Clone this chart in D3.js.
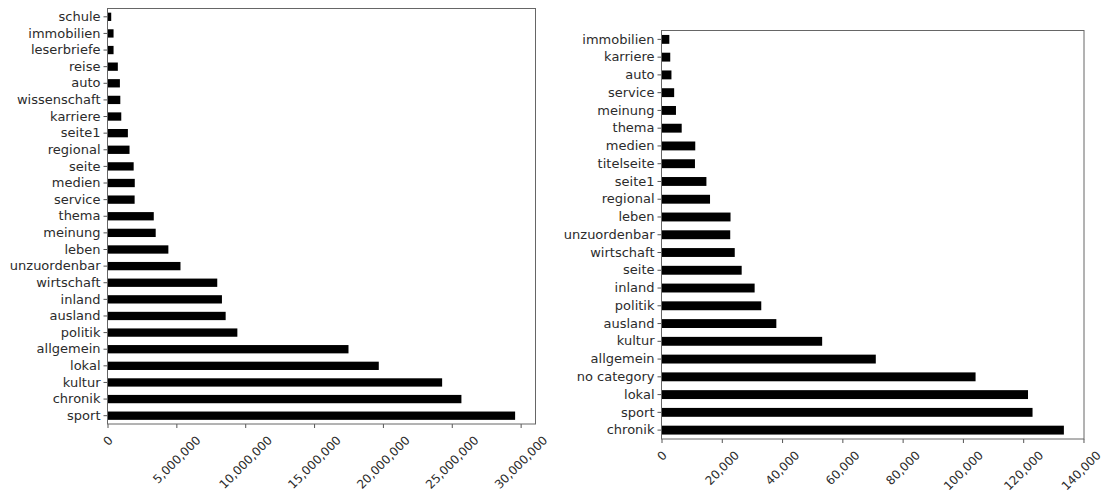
<!DOCTYPE html>
<html>
<head>
<meta charset="utf-8">
<script src="https://cdnjs.cloudflare.com/ajax/libs/d3/7.8.5/d3.min.js"></script>
<style>
  body { margin: 0; background: #fff; }
  svg text { font-family: "DejaVu Sans", sans-serif; font-size: 13px; fill: #2b2b2b; }
  svg .xtick text { font-size: 12px; }
</style>
</head>
<body>
<svg id="chart" width="1103" height="493"></svg>
<script>
// ---------------- Data (top to bottom as drawn) ----------------
var leftCategories = ["schule", "immobilien", "leserbriefe", "reise", "auto", "wissenschaft", "karriere",
    "seite1", "regional", "seite", "medien", "service", "thema", "meinung", "leben", "unzuordenbar",
    "wirtschaft", "inland", "ausland", "politik", "allgemein", "lokal", "kultur", "chronik", "sport"];
var leftValues = [270000, 440000, 440000, 750000, 900000, 930000, 1000000,
    1480000, 1600000, 1900000, 1980000, 1970000, 3360000, 3500000, 4420000, 5300000,
    7970000, 8310000, 8580000, 9430000, 17500000, 19700000, 24300000, 25700000, 29600000];
var leftTicks = [0, 5000000, 10000000, 15000000, 20000000, 25000000, 30000000];

var rightCategories = ["immobilien", "karriere", "auto", "service", "meinung", "thema", "medien",
    "titelseite", "seite1", "regional", "leben", "unzuordenbar", "wirtschaft", "seite", "inland",
    "politik", "ausland", "kultur", "allgemein", "no category", "lokal", "sport", "chronik"];
var rightValues = [2600, 2900, 3300, 4200, 4800, 6700, 11200,
    11100, 14900, 16100, 22900, 22800, 24300, 26600, 30900,
    33100, 38100, 53300, 71100, 104200, 121600, 123100, 133500];
var rightTicks = [0, 20000, 40000, 60000, 80000, 100000, 120000, 140000];

var svg = d3.select("#chart");
var svgWidth = +svg.attr("width");
var fmt = d3.format(",");

// draws one horizontal bar panel inside the box {l, t, r, b}
function drawPanel(box, cats, vals, ticks) {
    var g = svg.append("g");
    var max = d3.max(vals) * 1.05;

    var x = d3.scaleLinear().domain([0, max]).range([box.l, box.r]);
    var y = d3.scaleBand().domain(cats).range([box.t, box.b])
        .paddingInner(0.5).paddingOuter(0.25);

    // bars
    g.selectAll("rect.bar")
        .data(cats)
        .enter()
        .append("rect")
        .attr("class", "bar")
        .attr("x", x(0))
        .attr("y", function(d) { return y(d); })
        .attr("width", function(d, i) { return x(vals[i]) - x(0); })
        .attr("height", y.bandwidth())
        .attr("fill", "#000");

    // y axis
    var yAxis = g.append("g")
        .attr("transform", "translate(" + box.l + ",0)")
        .call(d3.axisLeft(y).tickSize(4).tickPadding(3));
    yAxis.select(".domain").remove();
    yAxis.selectAll(".tick line").attr("stroke", "#555");
    yAxis.selectAll("text").attr("font-size", null).attr("font-family", null);

    // x axis with rotated labels
    var xAxis = g.append("g")
        .attr("class", "xtick")
        .attr("transform", "translate(0," + box.b + ")")
        .call(d3.axisBottom(x).tickValues(ticks).tickFormat(fmt).tickSize(4));
    xAxis.select(".domain").remove();
    xAxis.selectAll(".tick line").attr("stroke", "#555");
    xAxis.selectAll("text")
        .attr("font-size", null).attr("font-family", null)
        .attr("y", null).attr("dy", null)
        .attr("text-anchor", "middle")
        .attr("dominant-baseline", "central")
        .attr("transform", function(d) {
            var len = this.getComputedTextLength();
            var h = (len + 9) * Math.SQRT1_2;
            // keep the last label inside the picture
            var over = x(d) + h / 2 - (svgWidth - 1.5);
            var dx = over > 0 ? -over : 0;
            return "translate(" + dx + "," + (11 + h / 2) + ") rotate(-45)";
        });

    // frame
    g.append("rect")
        .attr("x", box.l).attr("y", box.t)
        .attr("width", box.r - box.l).attr("height", box.b - box.t)
        .attr("fill", "none").attr("stroke", "#666").attr("stroke-width", 1);
}

drawPanel({l: 107.5, t: 8.5, r: 535.5, b: 424}, leftCategories, leftValues, leftTicks);
drawPanel({l: 661.5, t: 30.5, r: 1084, b: 439}, rightCategories, rightValues, rightTicks);
</script>
</body>
</html>
